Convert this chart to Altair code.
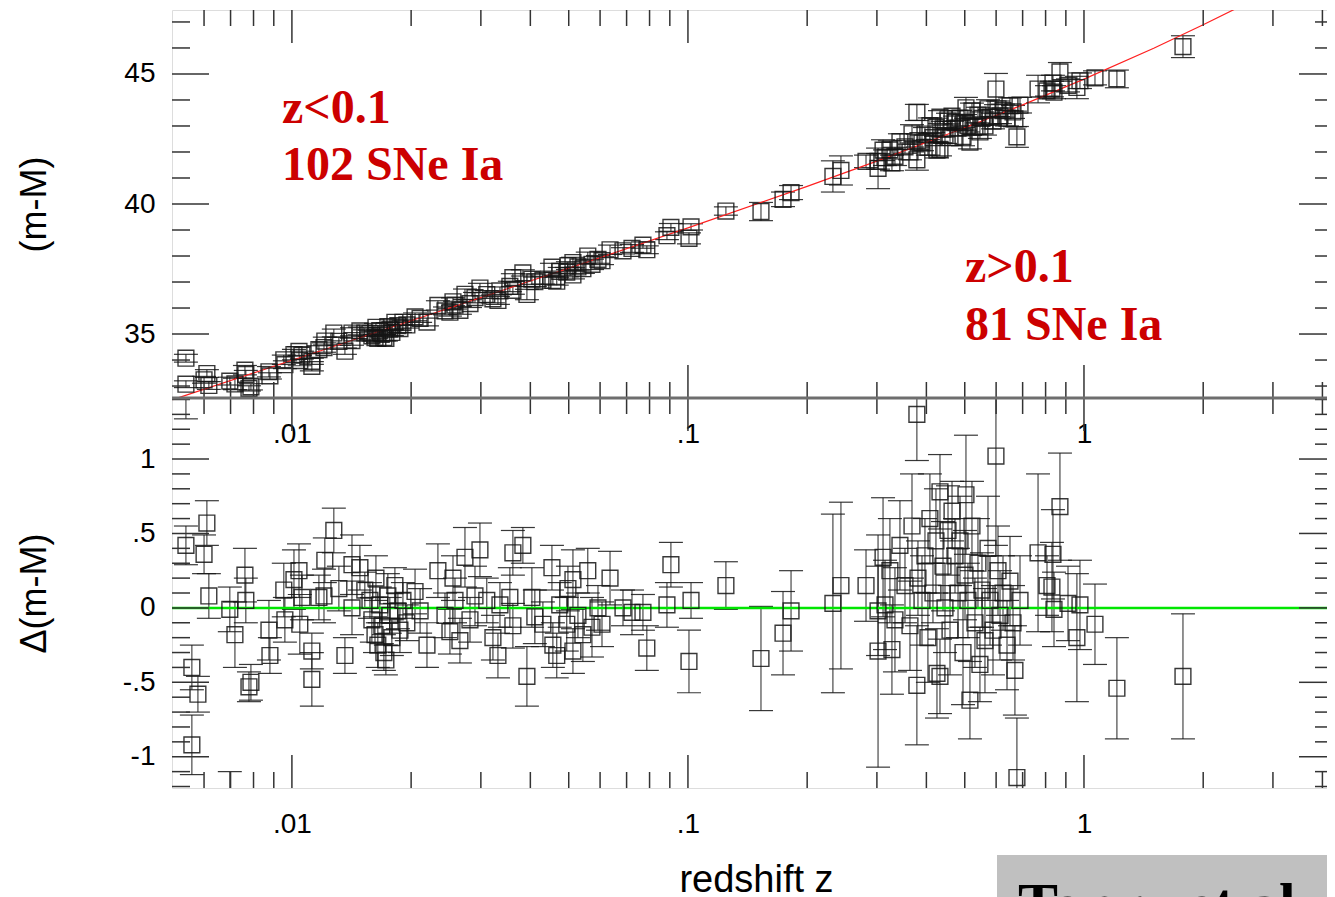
import altair as alt
import pandas as pd

# ---------------- data ----------------
z_vals = [0.0054, 0.0061, 0.0060, 0.00617, 0.00559, 0.00579, 0.00559, 0.00761, 0.00765, 0.00697,
          0.00718, 0.00788, 0.00779, 0.00875, 0.00880, 0.00954, 0.00960, 0.01042, 0.01047, 0.01060,
          0.01123, 0.01123, 0.01276, 0.01211, 0.01205, 0.01418, 0.01361, 0.01314, 0.01418, 0.0054,
          0.00697, 0.01012, 0.01170, 0.01528, 0.01574, 0.01592, 0.01621, 0.01648, 0.01667, 0.01687,
          0.01707, 0.01727, 0.01747, 0.01767, 0.01788, 0.01820, 0.01852, 0.01874, 0.01907, 0.01630,
          0.01485, 0.01951, 0.02046, 0.02337, 0.02193, 0.02551, 0.02735, 0.02984, 0.02506, 0.02656,
          0.03105, 0.03218, 0.03313, 0.03614, 0.03830, 0.03551, 0.03614, 0.03921, 0.04036, 0.04535,
          0.04303, 0.04560, 0.04977, 0.05124, 0.04943, 0.05124, 0.05586, 0.05724, 0.06067, 0.06357,
          0.06855, 0.07223, 0.07874, 0.02435, 0.02581, 0.02816, 0.02107, 0.02899, 0.04746, 0.05275,
          0.05429, 0.04664, 0.05927, 0.03352, 0.04106, 0.07698, 0.08851, 0.09057, 0.1018, 0.1006,
          0.1247, 0.1529, 0.1738, 0.1821, 0.2323, 0.2434, 0.2816, 0.3020, 0.3020, 0.3109,
          0.3785, 0.5994, 0.3785, 0.5153, 0.6771, 0.4254, 0.4329, 0.5461, 0.6693, 0.5035,
          0.3145, 0.3236, 0.3332, 0.3430, 0.3532, 0.3636, 0.3679, 0.3809, 0.3899, 0.3967,
          0.4036, 0.4083, 0.4156, 0.4229, 0.4329, 0.4406, 0.4457, 0.4536, 0.4589, 0.4643,
          0.4724, 0.4808, 0.4864, 0.4949, 0.5007, 0.5093, 0.5214, 0.5305, 0.5399, 0.5526,
          0.5623, 0.5723, 0.5790, 0.5892, 0.6066, 0.6137, 0.6245, 0.6392, 0.6504, 0.6619,
          0.3274, 0.6894, 0.8696, 0.8350, 0.8300, 0.8400, 0.9769, 1.066, 0.9597, 1.211,
          1.778, 0.7656, 0.8065, 0.9113]

mu_vals = [33.07, 33.48, 33.24, 33.02, 32.32, 32.22, 31.80, 33.61, 33.45, 33.19,
           33.08, 32.97, 32.91, 33.55, 33.39, 34.01, 33.82, 34.33, 33.98, 34.19,
           33.95, 33.76, 35.04, 34.73, 34.48, 35.04, 34.34, 34.72, 34.75, 34.07,
           31.85, 34.21, 34.40, 35.04, 35.03, 34.93, 34.86, 34.83, 35.13, 35.01,
           34.86, 34.83, 35.29, 35.19, 35.06, 35.45, 35.32, 35.21, 35.45, 35.26,
           35.12, 35.35, 35.66, 36.10, 35.46, 36.24, 36.53, 36.77, 35.84, 35.91,
           36.52, 36.35, 36.29, 37.17, 37.35, 36.83, 36.68, 36.52, 37.11, 37.57,
           37.07, 37.06, 37.63, 37.75, 37.38, 37.27, 38.00, 37.68, 37.82, 38.24,
           38.20, 38.29, 38.24, 35.89, 36.11, 36.17, 35.60, 36.40, 37.41, 37.58,
           37.51, 37.03, 37.87, 36.66, 37.01, 38.42, 38.78, 39.10, 39.12, 38.68,
           39.73, 39.71, 40.18, 40.44, 41.06, 41.29, 41.64, 41.64, 41.37, 42.07,
           43.52, 44.42, 41.70, 42.38, 42.58, 42.07, 42.10, 42.77, 43.27, 43.70,
           41.78, 42.08, 41.83, 42.40, 42.20, 42.00, 42.70, 42.44, 42.35, 42.69,
           42.18, 43.01, 42.55, 42.95, 43.34, 42.88, 42.63, 43.19, 42.55, 43.38,
           43.13, 42.92, 43.30, 42.59, 43.14, 43.02, 43.58, 42.97, 43.42, 43.29,
           43.00, 43.66, 43.34, 43.19, 43.66, 43.39, 43.59, 43.30, 43.78, 43.54,
           41.58, 43.80, 45.08, 44.65, 44.42, 44.30, 44.74, 44.85, 44.48, 44.81,
           46.05, 44.42, 44.35, 44.56]

dmu_vals = [0.42, 0.57, 0.36, 0.08, -0.40, -0.58, -0.92, 0.22, 0.05, -0.01,
            -0.18, -0.50, -0.53, -0.15, -0.32, 0.12, -0.08, 0.25, -0.11, 0.07,
            -0.29, -0.48, 0.52, 0.32, 0.08, 0.29, -0.32, 0.13, 0.00, 1.42,
            -1.35, 0.19, 0.07, 0.12, 0.05, -0.08, -0.18, -0.25, 0.02, -0.12,
            -0.30, -0.35, 0.08, -0.05, -0.20, 0.15, -0.02, -0.15, 0.05, 0.20,
            0.27, -0.10, 0.11, 0.25, -0.25, 0.20, 0.34, 0.39, -0.16, -0.22,
            0.05, -0.20, -0.32, 0.37, 0.42, 0.07, -0.12, -0.46, 0.07, 0.27,
            -0.11, -0.25, 0.13, 0.19, -0.11, -0.29, 0.25, -0.13, -0.11, 0.20,
            0.00, -0.03, -0.27, -0.05, 0.05, -0.08, -0.02, 0.08, 0.02, -0.05,
            -0.18, -0.32, 0.00, 0.02, -0.06, -0.03, 0.02, 0.29, 0.05, -0.36,
            0.15, -0.34, -0.17, -0.02, 0.03, 0.15, 0.15, -0.02, -0.29, 0.34,
            1.30, 1.02, -0.52, -0.62, -1.14, -0.44, -0.46, -0.38, -0.42, 0.76,
            0.02, 0.25, -0.08, 0.42, 0.15, -0.12, 0.55, 0.20, 0.05, 0.35,
            -0.20, 0.60, 0.10, 0.45, 0.78, 0.28, 0.00, 0.52, -0.15, 0.65,
            0.35, 0.10, 0.45, -0.30, 0.22, 0.05, 0.55, -0.10, 0.30, 0.12,
            -0.22, 0.40, 0.05, -0.15, 0.25, -0.05, 0.10, -0.25, 0.18, -0.10,
            -0.28, 0.05, 0.68, 0.36, 0.14, -0.01, 0.02, -0.11, -0.20, -0.54,
            -0.46, 0.37, 0.15, 0.03]

err_vals = [0.13, 0.15, 0.13, 0.15, 0.15, 0.12, 0.20, 0.18, 0.15, 0.15,
            0.22, 0.12, 0.10, 0.20, 0.12, 0.18, 0.15, 0.18, 0.20, 0.15,
            0.12, 0.18, 0.15, 0.15, 0.18, 0.20, 0.12, 0.15, 0.18, 0.15,
            0.25, 0.20, 0.15, 0.12, 0.12, 0.15, 0.12, 0.15, 0.12, 0.12,
            0.12, 0.10, 0.15, 0.12, 0.12, 0.12, 0.12, 0.15, 0.12, 0.15,
            0.15, 0.12, 0.15, 0.18, 0.15, 0.15, 0.20, 0.18, 0.15, 0.15,
            0.15, 0.15, 0.15, 0.15, 0.12, 0.20, 0.15, 0.20, 0.20, 0.15,
            0.15, 0.15, 0.15, 0.20, 0.18, 0.15, 0.15, 0.20, 0.15, 0.18,
            0.12, 0.15, 0.15, 0.15, 0.15, 0.15, 0.15, 0.20, 0.15, 0.15,
            0.18, 0.15, 0.15, 0.15, 0.18, 0.12, 0.15, 0.15, 0.12, 0.21,
            0.16, 0.35, 0.28, 0.27, 0.60, 0.56, 0.24, 0.30, 0.78, 0.40,
            0.31, 0.60, 0.40, 0.26, 0.40, 0.30, 0.25, 0.25, 0.30, 0.40,
            0.30, 0.35, 0.35, 0.30, 0.25, 0.30, 0.35, 0.25, 0.30, 0.25,
            0.30, 0.30, 0.20, 0.35, 0.25, 0.30, 0.30, 0.30, 0.30, 0.20,
            0.25, 0.30, 0.30, 0.35, 0.30, 0.25, 0.30, 0.30, 0.30, 0.25,
            0.35, 0.35, 0.30, 0.30, 0.30, 0.30, 0.25, 0.30, 0.30, 0.25,
            0.30, 0.30, 0.36, 0.30, 0.30, 0.25, 0.30, 0.27, 0.43, 0.34,
            0.42, 0.53, 0.20, 0.25]

# fitted model curve (red line)
line_z = [0.005, 0.01, 0.02, 0.05, 0.1, 0.2, 0.3, 0.5, 0.7, 1.0, 1.5, 2.0, 3.0]
line_mu = [32.48, 33.99, 35.51, 37.53, 39.08, 40.68, 41.65, 42.93, 43.81, 44.80, 45.99, 46.89, 48.22]

# axes
x_major = [0.01, 0.1, 1]
x_labels = [".01", ".1", "1"]
x_minor = [0.006, 0.007, 0.008, 0.009, 0.02, 0.03, 0.04, 0.05, 0.06, 0.07, 0.08, 0.09,
           0.2, 0.3, 0.4, 0.5, 0.6, 0.7, 0.8, 0.9, 2, 3, 4]
top_major = [35, 40, 45]
top_labels = ["35", "40", "45"]
top_minor = [33, 34, 36, 37, 38, 39, 41, 42, 43, 44, 46, 47]
bot_major = [-1, -0.5, 0, 0.5, 1]
bot_labels = ["-1", "-.5", "0", ".5", "1"]
bot_minor = [-1.2, -1.1, -0.9, -0.8, -0.7, -0.6, -0.4, -0.3, -0.2, -0.1, 0.1, 0.2, 0.3,
             0.4, 0.6, 0.7, 0.8, 0.9, 1.1, 1.2, 1.3, 1.4]
zero_line = [0]
ann_text = ["z<0.1", "102 SNe Ia", "z>0.1", "81 SNe Ia"]
credit_text = ["Tonry et al."]

# ---------------- geometry ----------------
W = 1155
H = 778
HT = 388
XDOM = [0.00498, 4.108]
TOPDOM = [32.54, 47.46]
BOTDOM = [-1.21, 1.41]
FONT = "Liberation Sans"
SERIF = "Liberation Serif"
TICKC = "#333333"


def label_expr(vals, labels):
    parts = [f"datum.value == {v} ? '{l}'" for v, l in zip(vals, labels)]
    return " : ".join(parts) + " : ''"


xs = alt.Scale(type="log", domain=XDOM, nice=False)


def ytop(clamp=False):
    return alt.Scale(domain=TOPDOM, range=[HT, 0], nice=False, zero=False, clamp=clamp)


def ybot(clamp=False):
    return alt.Scale(domain=BOTDOM, range=[H, HT], nice=False, zero=False, clamp=clamp)


df = pd.DataFrame({"z": z_vals, "mu": mu_vals, "dmu": dmu_vals, "err": err_vals})
base = alt.Chart(df).transform_calculate(
    mu_lo="datum.mu - datum.err", mu_hi="datum.mu + datum.err",
    d_lo="datum.dmu - datum.err", d_hi="datum.dmu + datum.err")

X = alt.X("z:Q", scale=xs, axis=None)
ink = "#151515"
layers = []

# ---------- top panel ----------
layers.append(base.mark_rule(color=ink, strokeWidth=1.1, opacity=0.85).encode(
    x=X, y=alt.Y("mu_lo:Q", scale=ytop(True), axis=None), y2="mu_hi:Q"))
for col in ["mu_lo", "mu_hi"]:
    layers.append(base.transform_filter(
        f"datum.{col} > {TOPDOM[0]} && datum.{col} < {TOPDOM[1]}").mark_tick(
        orient="horizontal", size=24, thickness=1.2, color=ink, opacity=0.85).encode(
        x=X, y=alt.Y(f"{col}:Q", scale=ytop(), axis=None)))

layers.append(alt.Chart(pd.DataFrame({"z": line_z, "mu": line_mu})).mark_line(
    color="#ff2020", strokeWidth=1.2, clip=True).encode(
    x=X, y=alt.Y("mu:Q", scale=ytop(), axis=None)))

layers.append(base.transform_filter(
    f"datum.mu > {TOPDOM[0]} && datum.mu < {TOPDOM[1]}").mark_point(
    shape="square", size=250, filled=False, color=ink, strokeWidth=1.4, opacity=0.85).encode(
    x=alt.X("z:Q", scale=xs, axis=alt.Axis(
        orient="bottom", offset=-(H - HT), values=x_major, labelExpr=label_expr(x_major, x_labels),
        ticks=False, tickSize=0, domain=False, grid=False, labelPadding=22,
        labelFontSize=28, labelFont=FONT, labelColor="#000", labelFlush=False, title=None)),
    y=alt.Y("mu:Q", scale=ytop(), axis=alt.Axis(
        orient="left", values=top_major, labelExpr=label_expr(top_major, top_labels),
        ticks=False, tickSize=0, domain=False, grid=False, labelPadding=17,
        labelFontSize=28, labelFont=FONT, labelColor="#000", title="(m-M)",
        titleFont=FONT, titleFontSize=36, titleFontWeight="normal", titleColor="#000",
        titleX=-138, titleY=HT / 2, titleAngle=270, titleBaseline="middle", titleAlign="center"))))

# ---------- bottom panel ----------
layers.append(base.mark_rule(color=ink, strokeWidth=1.1, opacity=0.85).encode(
    x=X, y=alt.Y("d_lo:Q", scale=ybot(True), axis=None), y2="d_hi:Q"))
for col in ["d_lo", "d_hi"]:
    layers.append(base.transform_filter(
        f"datum.{col} > {BOTDOM[0]} && datum.{col} < {BOTDOM[1]}").mark_tick(
        orient="horizontal", size=24, thickness=1.2, color=ink, opacity=0.85).encode(
        x=X, y=alt.Y(f"{col}:Q", scale=ybot(), axis=None)))

layers.append(alt.Chart(pd.DataFrame({"v": zero_line})).mark_rule(
    color="#00e600", strokeWidth=2.5).encode(y=alt.Y("v:Q", scale=ybot(), axis=None)))

layers.append(base.transform_filter(
    f"datum.dmu > {BOTDOM[0]} && datum.dmu < {BOTDOM[1]}").mark_point(
    shape="square", size=250, filled=False, color=ink, strokeWidth=1.4, opacity=0.85).encode(
    x=alt.X("z:Q", scale=xs, axis=alt.Axis(
        orient="bottom", values=x_major, labelExpr=label_expr(x_major, x_labels),
        ticks=False, tickSize=0, domain=False, grid=False, labelPadding=22,
        labelFontSize=28, labelFont=FONT, labelColor="#000", labelFlush=False,
        title="redshift z", titleFont=FONT, titleFontSize=38, titleFontWeight="normal",
        titleColor="#000", titleX=584, titleY=103, titleBaseline="alphabetic")),
    y=alt.Y("dmu:Q", scale=ybot(), axis=alt.Axis(
        orient="left", values=bot_major, labelExpr=label_expr(bot_major, bot_labels),
        ticks=False, tickSize=0, domain=False, grid=False, labelPadding=17,
        labelFontSize=28, labelFont=FONT, labelColor="#000", title="Δ(m-M)",
        titleFont=FONT, titleFontSize=36, titleFontWeight="normal", titleColor="#000",
        titleX=-138, titleY=(H + HT) / 2, titleAngle=270, titleBaseline="middle",
        titleAlign="center"))))

# ---------- tick marks (inward, IDL style) ----------
def xticks(vals, y0, y1):
    return alt.Chart(pd.DataFrame({"t": vals})).mark_rule(color=TICKC, strokeWidth=1.5).encode(
        x=alt.X("t:Q", scale=xs, axis=None), y=alt.value(y0), y2=alt.value(y1))


for vals, ln in [(x_major, 33), (x_minor, 16)]:
    layers.append(xticks(vals, 0, ln))
    layers.append(xticks(vals, HT - ln, HT))
    layers.append(xticks(vals, HT, HT + ln))
    layers.append(xticks(vals, H - ln, H))


def yticks(vals, scale, x0, x1):
    return alt.Chart(pd.DataFrame({"v": vals})).mark_rule(color=TICKC, strokeWidth=1.5).encode(
        y=alt.Y("v:Q", scale=scale, axis=None), x=alt.value(x0), x2=alt.value(x1))


for vals, sc in [(top_major, ytop()), (bot_major, ybot())]:
    layers.append(yticks(vals, sc, 0, 37))
    layers.append(yticks(vals, sc, W - 28, W))
for vals, sc in [(top_minor, ytop()), (bot_minor, ybot())]:
    layers.append(yticks(vals, sc, 0, 18))
    layers.append(yticks(vals, sc, W - 12, W))

# panel separator
layers.append(alt.Chart(pd.DataFrame({"v": zero_line})).mark_rule(
    color="#6e6e6e", strokeWidth=3).encode(y=alt.value(HT)))

# ---------- annotations ----------
ann_pos = [(110, 113), (110, 170), (793, 272), (793, 330)]
for txt, (px, py) in zip(ann_text, ann_pos):
    layers.append(alt.Chart(pd.DataFrame({"label": [txt]})).mark_text(
        font=SERIF, fontSize=48, fontWeight="bold", color="#cc0000", align="left",
        baseline="alphabetic").encode(text="label:N", x=alt.value(px), y=alt.value(py)))

layers.append(alt.Chart(pd.DataFrame({"label": credit_text})).mark_rect(color="#c0c0c0").encode(
    x=alt.value(825), x2=alt.value(1170), y=alt.value(845), y2=alt.value(930)))
layers.append(alt.Chart(pd.DataFrame({"label": credit_text})).mark_text(
    font=SERIF, fontSize=60, fontWeight="bold", color="#000", align="left",
    baseline="alphabetic").encode(text="label:N", x=alt.value(846), y=alt.value(914)))

chart = alt.layer(*layers).resolve_scale(y="independent").resolve_axis(
    x="independent", y="independent").properties(
    width=W, height=H, autosize=alt.AutoSizeParams(type="none"),
    padding={"left": 164, "top": 2, "right": 0, "bottom": 150}
).configure_view(stroke="#8a8a8a", strokeWidth=3).configure(background="white")

chart.save("out.html", embed_options={"renderer": "svg", "actions": False})
